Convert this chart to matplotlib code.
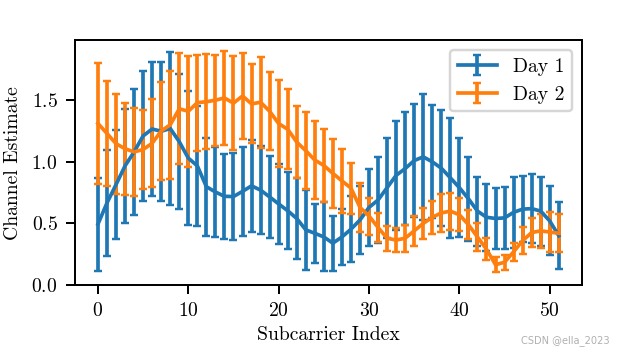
"""Estimación de canal por subportadora, dos días, con barras de error."""

import matplotlib
matplotlib.use("Agg")
import matplotlib.pyplot as plt
import numpy as np

plt.rcParams["font.family"] = "serif"
plt.rcParams["font.serif"] = ["cmr10", "DejaVu Serif"]
plt.rcParams["mathtext.fontset"] = "cm"
plt.rcParams["axes.formatter.use_mathtext"] = True
plt.rcParams["font.size"] = 8

subcarrier = np.arange(52)

day1_mean = [
    0.494, 0.666, 0.815, 0.967, 1.08, 1.21, 1.266, 1.248, 1.27, 1.163,
    1.03, 0.967, 0.798, 0.755, 0.72, 0.718, 0.76, 0.805, 0.77, 0.715,
    0.658, 0.603, 0.54, 0.448, 0.42, 0.39, 0.34, 0.39, 0.453, 0.528,
    0.63, 0.69, 0.79, 0.89, 0.945, 1.01, 1.04, 1.0, 0.948, 0.87,
    0.79, 0.70, 0.60, 0.55, 0.54, 0.545, 0.59, 0.616, 0.62, 0.60,
    0.52, 0.40,
]
day1_err = [
    0.378, 0.43, 0.44, 0.46, 0.51, 0.53, 0.54, 0.565, 0.62, 0.547,
    0.544, 0.486, 0.398, 0.365, 0.347, 0.352, 0.36, 0.375, 0.356, 0.336,
    0.324, 0.312, 0.33, 0.327, 0.24, 0.28, 0.223, 0.225, 0.27, 0.277,
    0.31, 0.347, 0.405, 0.44, 0.455, 0.46, 0.51, 0.46, 0.47, 0.485,
    0.40, 0.34, 0.28, 0.27, 0.25, 0.25, 0.29, 0.27, 0.277, 0.28,
    0.28, 0.27,
]
day2_mean = [
    1.311, 1.23, 1.147, 1.106, 1.08, 1.10, 1.15, 1.25, 1.30, 1.43,
    1.41, 1.48, 1.487, 1.50, 1.518, 1.476, 1.534, 1.47, 1.483, 1.41,
    1.31, 1.264, 1.16, 1.09, 1.014, 0.97, 0.906, 0.845, 0.787, 0.63,
    0.56, 0.467, 0.38, 0.365, 0.38, 0.44, 0.50, 0.55, 0.585, 0.60,
    0.57, 0.49, 0.39, 0.29, 0.165, 0.185, 0.27, 0.36, 0.426, 0.44,
    0.43, 0.42,
]
day2_err = [
    0.493, 0.425, 0.405, 0.374, 0.358, 0.324, 0.358, 0.40, 0.44, 0.45,
    0.45, 0.39, 0.385, 0.37, 0.38, 0.38, 0.35, 0.32, 0.37, 0.315,
    0.35, 0.324, 0.29, 0.31, 0.317, 0.30, 0.277, 0.257, 0.207, 0.20,
    0.15, 0.12, 0.10, 0.10, 0.11, 0.124, 0.128, 0.135, 0.155, 0.15,
    0.135, 0.12, 0.11, 0.09, 0.06, 0.06, 0.075, 0.108, 0.12, 0.14,
    0.16, 0.155,
]

fig = plt.figure(figsize=(3.497, 2.006), dpi=177)
ax = fig.add_axes([0.121, 0.197, 0.819, 0.690])

style = dict(capsize=1.8)
ax.errorbar(subcarrier, day1_mean, yerr=day1_err, color="#1f77b4", label="Day 1", **style)
ax.errorbar(subcarrier, day2_mean, yerr=day2_err, color="#ff7f0e", label="Day 2", **style)

ax.set_xlabel("Subcarrier Index", labelpad=2.5)
ax.set_ylabel("Channel Estimate")
ax.set_xticks([0, 10, 20, 30, 40, 50])
ax.set_yticks([0.0, 0.5, 1.0, 1.5])
ax.legend(loc="upper right")

fig.text(0.985, 0.025, "CSDN @ella_2023", ha="right", va="bottom",
         fontsize=4.0, color="#b0b0b0", family="DejaVu Sans")

fig.savefig("out.png", dpi=177)
